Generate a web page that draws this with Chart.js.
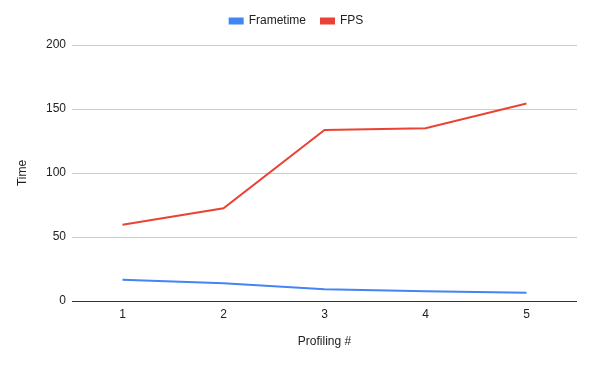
<!DOCTYPE html>
<html>
<head>
<meta charset="utf-8">
<script src="https://cdn.jsdelivr.net/npm/chart.js@4"></script>
<style>
  html, body { margin: 0; padding: 0; background: #fff; }
  #wrap { width: 597px; height: 367px; }
</style>
</head>
<body>
<div id="wrap"><canvas id="grafico"></canvas></div>
<script>
// dados
const perfis = ["1", "2", "3", "4", "5"];
const frametime = [16.6, 13.8, 9.1, 7.6, 6.5];
const fps = [59.6, 72.5, 133.6, 134.9, 154.3];
const ticksY = [0, 50, 100, 150, 200];

const fonte = { family: "'Liberation Sans', Arial, sans-serif", size: 12 };

// aumenta o espaço abaixo da legenda sem mover a legenda
const espacoLegenda = {
  id: "espacoLegenda",
  beforeInit(chart) {
    const fitOriginal = chart.legend.fit;
    chart.legend.fit = function () {
      fitOriginal.call(this);
      this.height += 8;
    };
  },
};

new Chart(document.getElementById("grafico"), {
  type: "line",
  data: {
    labels: perfis,
    datasets: [
      {
        label: "Frametime",
        data: frametime,
        borderColor: "#4285f4",
        backgroundColor: "#4285f4",
        borderWidth: 2,
        pointRadius: 0,
        tension: 0,
      },
      {
        label: "FPS",
        data: fps,
        borderColor: "#ea4335",
        backgroundColor: "#ea4335",
        borderWidth: 2,
        pointRadius: 0,
        tension: 0,
      },
    ],
  },
  plugins: [espacoLegenda],
  options: {
    responsive: true,
    maintainAspectRatio: false,
    animation: false,
    layout: { padding: { top: 0, right: 20, bottom: 0, left: 16 } },
    plugins: {
      legend: {
        position: "top",
        labels: {
          font: fonte,
          color: "#222",
          boxWidth: 13,
          boxHeight: 5,
          padding: 15,
        },
      },
      tooltip: { enabled: false },
    },
    scales: {
      x: {
        type: "category",
        offset: true,
        grid: { display: false, drawTicks: false },
        border: { display: false },
        ticks: { font: fonte, color: "#222", padding: 6 },
        title: {
          display: true,
          text: "Profiling #",
          font: fonte,
          color: "#222",
          padding: { top: 14, bottom: 18 },
        },
        afterFit: (s) => { s.height = 66; },
      },
      y: {
        min: 0,
        max: 200,
        afterBuildTicks: (s) => { s.ticks = ticksY.map((v) => ({ value: v })); },
        grid: {
          color: (ctx) => (ctx.tick && ctx.tick.value === 0 ? "#333" : "#ccc"),
          lineWidth: 1,
          drawTicks: false,
        },
        border: { display: false },
        ticks: { font: fonte, color: "#222", padding: 6 },
        title: {
          display: true,
          text: "Time",
          font: fonte,
          color: "#222",
          padding: { top: -1, bottom: 10 },
        },
        afterFit: (s) => { s.width = 56; },
      },
    },
  },
});
</script>
</body>
</html>
